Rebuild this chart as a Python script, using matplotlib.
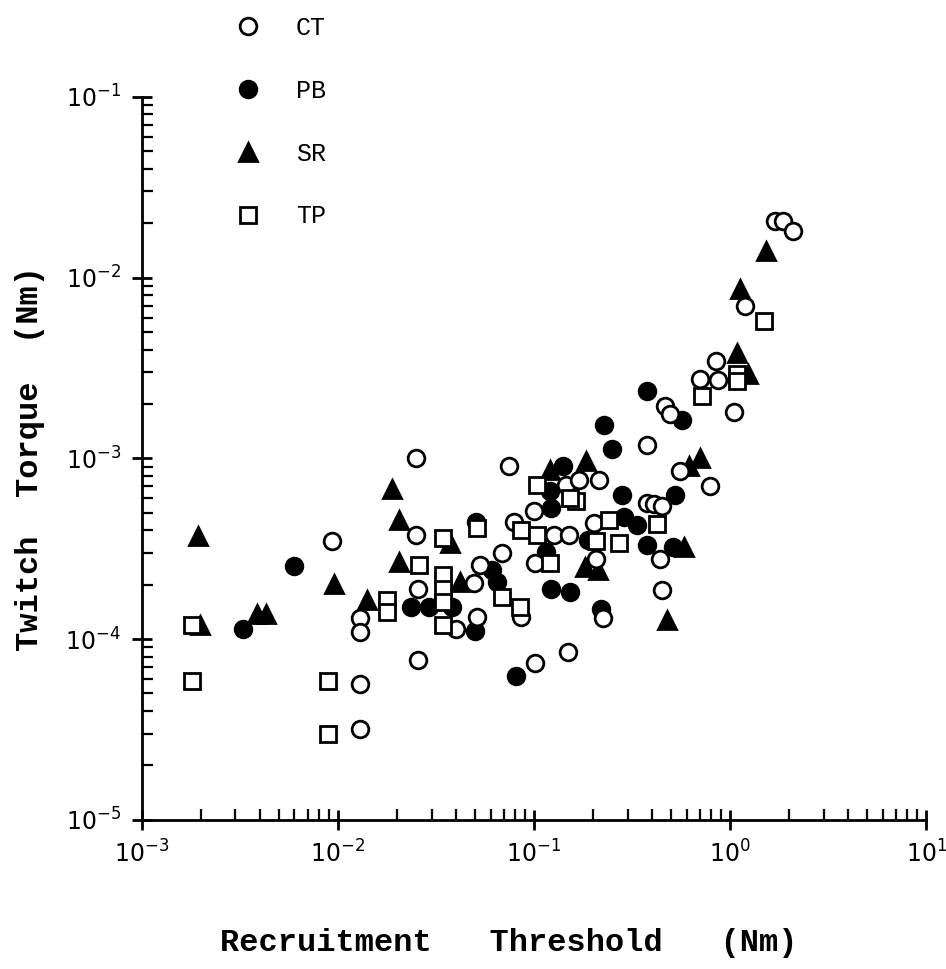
import matplotlib
matplotlib.use("Agg")
import matplotlib.pyplot as plt
from matplotlib.ticker import LogLocator, LogFormatterMathtext, NullFormatter

# values (x = recruitment threshold, y = twitch torque, both Nm)
ct_x = [0.00927, 0.0129, 0.0129, 0.0129, 0.0129, 0.0251, 0.0251, 0.0257, 0.0257,
        0.0747, 0.0792, 0.126, 0.150, 0.0683, 0.0531, 0.0497, 0.0513, 0.0399,
        0.0863, 0.100, 0.146, 0.101, 0.101, 0.149, 0.848, 0.703, 0.871, 1.05,
        0.468, 0.496, 0.378, 0.557, 0.791, 0.170, 0.215, 0.378, 0.408, 0.450,
        0.203, 0.438, 0.207, 0.450, 0.226, 1.19, 1.69, 1.87, 2.10]
ct_y = [0.000350, 0.000131, 0.000110, 5.65e-5, 3.18e-5, 0.00100, 0.000378, 0.000190,
        7.67e-5, 0.000903, 0.000447, 0.000377, 0.000377, 0.000298, 0.000257, 0.000203,
        0.000133, 0.000114, 0.000133, 0.000508, 0.000714, 0.000262, 7.36e-5, 8.47e-5,
        0.00346, 0.00274, 0.00270, 0.00180, 0.00195, 0.00175, 0.00119, 0.000847,
        0.000699, 0.000762, 0.000762, 0.000565, 0.000557, 0.000548, 0.000437,
        0.000279, 0.000279, 0.000187, 0.000130, 0.00699, 0.0207, 0.0207, 0.0181]

pb_x = [0.00596, 0.00327, 0.0507, 0.0608, 0.0645, 0.0235, 0.0290, 0.0381, 0.0501,
        0.140, 0.120, 0.122, 0.115, 0.122, 0.152, 0.0813, 0.375, 0.568, 0.228,
        0.251, 0.282, 0.525, 0.288, 0.336, 0.188, 0.375, 0.51, 0.219]
pb_y = [0.000255, 0.000114, 0.000447, 0.000241, 0.000207, 0.000151, 0.000151,
        0.000151, 0.000111, 0.000903, 0.000656, 0.000529, 0.000304, 0.000190,
        0.000182, 6.28e-5, 0.00236, 0.00162, 0.00153, 0.00112, 0.000629, 0.000629,
        0.000476, 0.000428, 0.000353, 0.000332, 0.000325, 0.000147]

sr_x = [0.00194, 0.00199, 0.00386, 0.00430, 0.00949, 0.0141, 0.0188, 0.0206, 0.0206,
        0.0374, 0.0420, 0.121, 0.184, 0.181, 0.211, 0.477, 0.579, 0.614, 0.703,
        1.087, 1.24, 1.12, 1.53]
sr_y = [0.000372, 0.000120, 0.000138, 0.000138, 0.000202, 0.000165, 0.000673,
        0.000458, 0.000268, 0.000338, 0.000207, 0.000865, 0.000963, 0.000250,
        0.000241, 0.000127, 0.000325, 0.000903, 0.00100, 0.00385, 0.00292,
        0.00865, 0.0141]

tp_x = [0.00181, 0.00181, 0.00885, 0.00885, 0.0178, 0.0178, 0.0344, 0.0513, 0.0857,
        0.103, 0.0259, 0.0344, 0.0344, 0.0344, 0.0344, 0.0683, 0.0847, 0.103,
        0.164, 0.152, 0.120, 0.242, 0.207, 0.272, 0.425, 0.717, 1.08, 1.08, 1.49]
tp_y = [0.000120, 5.84e-5, 5.84e-5, 2.98e-5, 0.000165, 0.000141, 0.000361, 0.000410,
        0.000402, 0.000377, 0.000257, 0.000226, 0.000190, 0.000161, 0.000119,
        0.000171, 0.000151, 0.000714, 0.000577, 0.000601, 0.000262, 0.000456,
        0.000349, 0.000338, 0.000432, 0.00221, 0.00292, 0.00268, 0.00577]

plt.rcParams["mathtext.fontset"] = "stix"

fig = plt.figure(figsize=(9.46, 9.69), dpi=100)
ax = fig.add_axes([0.150, 0.154, 0.829, 0.746])

mk = dict(linestyle="none", markeredgecolor="black", markeredgewidth=2.0)
ax.plot(sr_x, sr_y, marker="^", markersize=13, markerfacecolor="black", label="SR", **mk)
ax.plot(pb_x, pb_y, marker="o", markersize=12, markerfacecolor="black", label="PB", **mk)
ax.plot(ct_x, ct_y, marker="o", markersize=12, markerfacecolor="white", label="CT", **mk)
ax.plot(tp_x, tp_y, marker="s", markersize=11, markerfacecolor="white", label="TP", **mk)

ax.set_xscale("log")
ax.set_yscale("log")
ax.set_xlim(1e-3, 1e1)
ax.set_ylim(1e-5, 1e-1)

for axis in (ax.xaxis, ax.yaxis):
    axis.set_major_locator(LogLocator(base=10, numticks=10))
    axis.set_minor_locator(LogLocator(base=10, subs=range(2, 10), numticks=10))
    axis.set_major_formatter(LogFormatterMathtext())
    axis.set_minor_formatter(NullFormatter())
ax.tick_params(which="major", direction="inout", length=14, width=2, labelsize=17, pad=8)
ax.tick_params(which="minor", direction="in", length=8, width=1.6)
ax.spines[["top", "right"]].set_visible(False)
ax.spines[["left", "bottom"]].set_linewidth(2)

ax.set_xlabel("Recruitment   Threshold   (Nm)", family="Liberation Mono",
              fontweight="bold", fontsize=23)
ax.xaxis.set_label_coords(0.468, -0.150)
ax.set_ylabel("Twitch  Torque  (Nm)", family="Liberation Mono",
              fontweight="bold", fontsize=23, labelpad=15)

handles, labels = ax.get_legend_handles_labels()
order = [labels.index(n) for n in ("CT", "PB", "SR", "TP")]
fig.legend([handles[i] for i in order], [labels[i] for i in order],
           loc="upper left", bbox_to_anchor=(0.228, 1.004), frameon=False,
           prop={"family": "Liberation Mono", "size": 18},
           labelspacing=1.55, handlelength=1.0, handletextpad=1.4, borderpad=0.3)

fig.savefig("out.png", dpi=100)
